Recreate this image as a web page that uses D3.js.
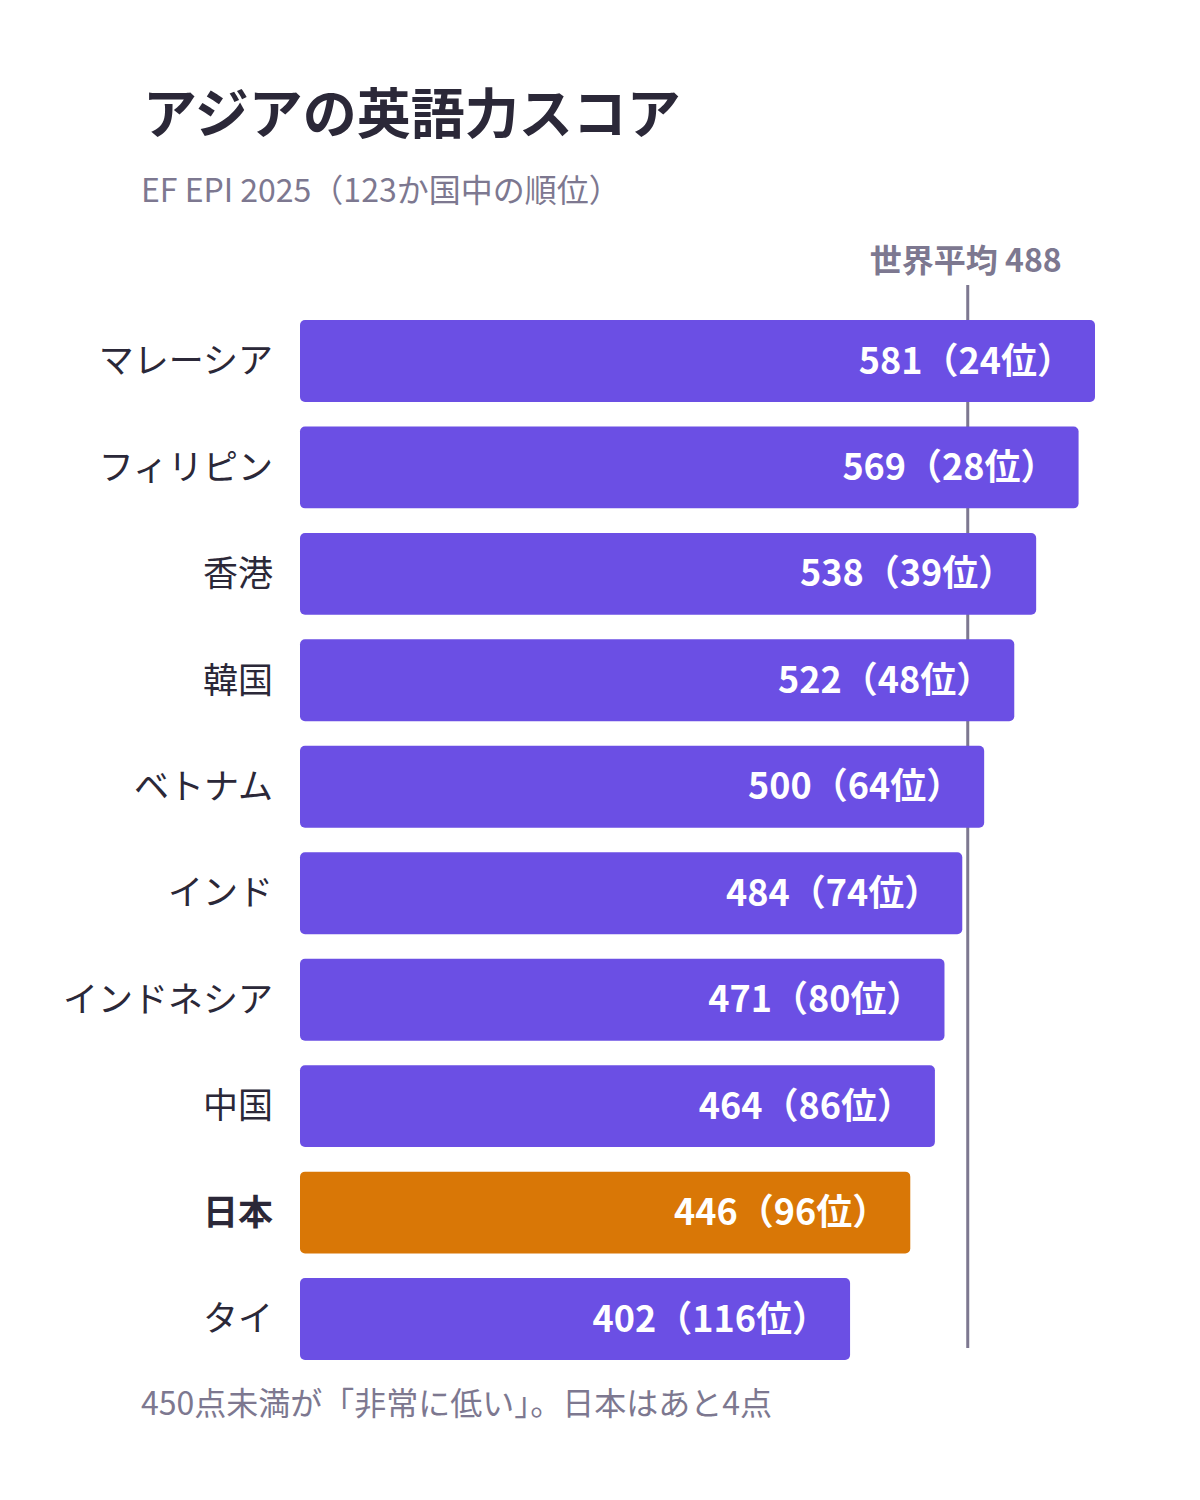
<!DOCTYPE html>
<html><head><meta charset="utf-8">
<script src="https://cdn.jsdelivr.net/npm/d3@7"></script>
<style>body{margin:0;background:#fff}</style>
</head><body><div id="chart"></div>
<script>
// data
var countries = ["マレーシア","フィリピン","香港","韓国","ベトナム","インド","インドネシア","中国","日本","タイ"]
var scores = [581,569,538,522,500,484,471,464,446,402]
var ranks = [24,28,39,48,64,74,80,86,96,116]
var worldAvg = 488

var font = "'Noto Sans CJK JP','Noto Sans',sans-serif"
var purple = "#6b4fe4", orange = "#d97706", grey = "#7d7890", dark = "#2b2838"

var svg = d3.select("#chart").append("svg")
    .attr("width", 1200).attr("height", 1500)
    .style("font-family", font)

var x = d3.scaleLinear().domain([0, 581]).range([300, 1095])
var y = d3.scaleBand().domain(countries).range([320, 1360]).paddingInner(24/104).paddingOuter(0)

svg.append("text").attr("x", 143).attr("y", 134)
    .attr("font-size", 54).attr("font-weight", 700).attr("fill", dark)
    .text("アジアの英語力スコア")
svg.append("text").attr("x", 141).attr("y", 202)
    .attr("font-size", 32).attr("fill", grey)
    .text("EF EPI 2025（123か国中の順位）")

var rows = svg.selectAll("g.row").data(countries).enter().append("g").attr("class", "row")

rows.append("rect")
    .attr("x", x(0)).attr("y", function(d) {return y(d)})
    .attr("width", function(d, i) {return x(scores[i]) - x(0)})
    .attr("height", y.bandwidth()).attr("rx", 5)
    .attr("fill", function(d) {return d == "日本" ? orange : purple})

rows.append("text")
    .attr("x", 273).attr("y", function(d) {return y(d) + y.bandwidth()/2})
    .attr("dy", "0.35em").attr("text-anchor", "end")
    .attr("font-size", 35).attr("fill", dark)
    .attr("font-weight", function(d) {return d == "日本" ? 700 : 400})
    .text(function(d) {return d})

// average line, drawn over bars
svg.append("line")
    .attr("x1", x(worldAvg)).attr("x2", x(worldAvg))
    .attr("y1", 285).attr("y2", 1348)
    .attr("stroke", grey).attr("stroke-width", 3)
svg.append("text").attr("x", x(worldAvg) - 2).attr("y", 272)
    .attr("text-anchor", "middle").attr("font-size", 32).attr("font-weight", 700)
    .attr("fill", grey).text("世界平均 " + worldAvg)

// redraw bars above line where they cross it
rows.each(function(d, i) {
  if (scores[i] > worldAvg) d3.select(this).raise()
})

rows.append("text")
    .attr("x", function(d, i) {return x(scores[i]) - 22})
    .attr("y", function(d) {return y(d) + y.bandwidth()/2})
    .attr("dy", "0.35em").attr("text-anchor", "end")
    .attr("font-size", 36).attr("font-weight", 700).attr("fill", "#fff")
    .text(function(d, i) {return scores[i] + "（" + ranks[i] + "位）"})

svg.append("text").attr("x", 141).attr("y", 1415)
    .attr("font-size", 32).attr("fill", grey)
    .text("450点未満が「非常に低い」。日本はあと4点")
</script></body></html>
